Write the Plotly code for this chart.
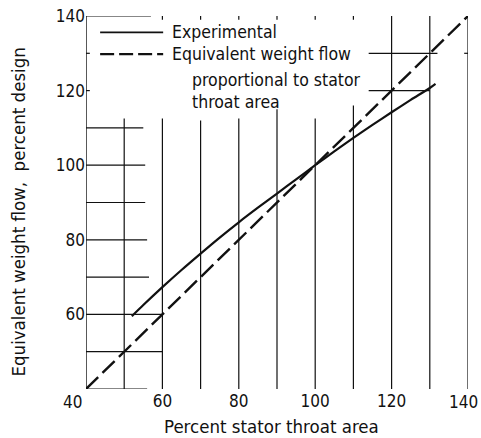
import plotly.graph_objects as go

# Experimental equivalent weight flow vs. percent stator throat area
exp_area = [52, 55, 60, 65, 70, 75, 80, 85, 90, 95, 100, 105, 110, 115, 120, 125, 130, 131.5]
exp_flow = [59.5, 62.5, 67.3, 71.9, 76.3, 80.6, 84.7, 88.6, 92.4, 96.2, 100, 103.7, 107.3, 110.8, 114.2, 117.5, 120.7, 121.8]

# Weight flow proportional to throat area
prop_area = [40, 140]
prop_flow = [40, 140]

x_ticks = [60, 80, 100, 120]
x_last_tick = 140
y_ticks = [60, 80, 100, 120, 140]

FONT = "Liberation Sans Narrow, DejaVu Sans Condensed, Arial Narrow, sans-serif"
INK = "#111111"
TICK_SIZE = 17

fig = go.Figure()
fig.add_trace(go.Scatter(x=exp_area, y=exp_flow, mode="lines",
                         line=dict(color=INK, width=2.2, shape="spline", smoothing=0.8), showlegend=False))
fig.add_trace(go.Scatter(x=prop_area, y=prop_flow, mode="lines",
                         line=dict(color=INK, width=2.4, dash="17px,6px"), showlegend=False))

shapes = []
def seg(x0, y0, x1, y1, w=1.2, dash=None):
    line = dict(color=INK, width=w)
    if dash:
        line["dash"] = dash
    shapes.append(dict(type="line", xref="x", yref="y", x0=x0, y0=y0, x1=x1, y1=y1, line=line, layer="below"))

# vertical rulings (x, top)
for gx, top in [(50, 112.5), (60, 112.5), (70, 112), (80, 112.5), (90, 115), (100, 112.5), (110, 116),
                (120, 140), (130, 140), (140, 140)]:
    seg(gx, 40, gx, top)
# horizontal rulings (y, start, end)
for gy, xa, xb in [(40, 40, 56), (50, 40, 60), (60, 40, 60), (70, 40, 56.5), (80, 40, 56), (90, 40, 55.5),
                   (100, 40, 55.5), (110, 40, 55), (140, 40, 57), (130, 114, 132), (120, 114, 130)]:
    seg(xa, gy, xb, gy)
# left axis and small ticks
seg(40, 40, 40, 140, w=1.4)
for ty in [120, 130]:
    seg(40, ty, 41, ty)
seg(139, 130, 140, 130)
for tx in [60, 70, 80, 90, 100, 110]:
    seg(tx, 140, tx, 139)

# key
seg(43.7, 135.6, 60.2, 135.6, w=1.8)
seg(43.7, 129.8, 60.2, 129.8, w=2.2, dash="14px,5px")

ann = [
    dict(x=62, y=135.6, text="Experimental", xanchor="left"),
    dict(x=62, y=129.8, text="Equivalent weight flow", xanchor="left"),
    dict(x=67.2, y=122.8, text="proportional to stator", xanchor="left"),
    dict(x=67.2, y=116.9, text="throat area", xanchor="left"),
]
annotations = [dict(a, xref="x", yref="y", showarrow=False, yanchor="middle",
                    font=dict(family=FONT, size=17.5, color=INK)) for a in ann]
# corner label shared by both scales
annotations.append(dict(x=-0.005, y=40, xref="paper", yref="y", text="40", showarrow=False,
                        xanchor="right", yanchor="top", yshift=-1,
                        font=dict(family=FONT, size=TICK_SIZE, color=INK)))
# last x label, kept inside the page edge
annotations.append(dict(x=x_last_tick, y=40, xref="x", yref="y", text=str(x_last_tick), showarrow=False,
                        xanchor="right", yanchor="top", xshift=12, yshift=-1,
                        font=dict(family=FONT, size=TICK_SIZE, color=INK)))
# axis titles
annotations.append(dict(x=0.5, xref="paper", y=0, yref="paper", xshift=-6, yshift=-37,
                        text="Percent stator throat area", showarrow=False, xanchor="center", yanchor="middle",
                        font=dict(family=FONT, size=18.5, color=INK)))
annotations.append(dict(x=0, xref="paper", y=0.5, yref="paper", xshift=-68, yshift=-10, textangle=-90,
                        text="Equivalent weight flow,  percent design", showarrow=False,
                        xanchor="center", yanchor="middle", font=dict(family=FONT, size=18.5, color=INK)))

fig.update_layout(
    width=481, height=438,
    margin=dict(l=86, r=13, t=16, b=49, autoexpand=False),
    paper_bgcolor="white", plot_bgcolor="white",
    shapes=shapes, annotations=annotations,
    xaxis=dict(range=[40, 140], tickvals=x_ticks, showgrid=False, zeroline=False, showline=False,
               ticks="", ticklen=0, automargin=False,
               tickfont=dict(family=FONT, size=TICK_SIZE, color=INK)),
    yaxis=dict(range=[40, 140], tickvals=y_ticks, showgrid=False, zeroline=False, showline=False,
               ticks="", ticklabeloverflow="allow", automargin=False,
               tickfont=dict(family=FONT, size=TICK_SIZE, color=INK)),
)

fig.write_html("out.html")
